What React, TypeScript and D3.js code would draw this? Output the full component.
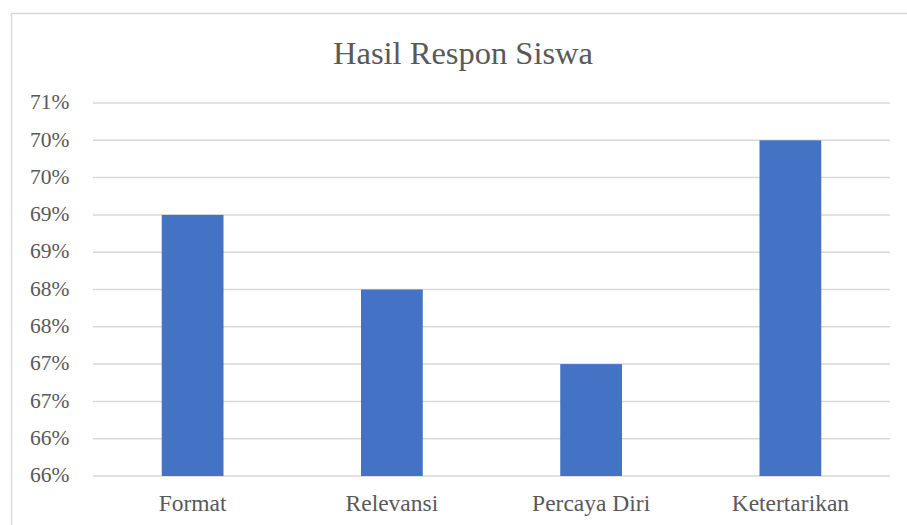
import { useEffect, useRef } from "react";
import * as d3 from "d3";

const categories = ["Format", "Relevansi", "Percaya Diri", "Ketertarikan"];
const values = [0.69, 0.68, 0.67, 0.7];
const tickValues = [0.655, 0.66, 0.665, 0.67, 0.675, 0.68, 0.685, 0.69, 0.695, 0.7, 0.705];
const title = "Hasil Respon Siswa";

export default function App() {
  const ref = useRef<SVGSVGElement>(null);

  useEffect(() => {
    const svg = d3.select(ref.current);
    svg.selectAll("*").remove();
    const width = 907;
    const height = 525;
    const m = { left: 93, right: 17, top: 103, bottom: 49 };
    const font = "Liberation Serif, Times New Roman, serif";

    // chart area border
    svg
      .append("rect")
      .attr("x", 11.5)
      .attr("y", 13.5)
      .attr("width", width)
      .attr("height", height)
      .attr("fill", "#fff")
      .attr("stroke", "#d9d9d9")
      .attr("stroke-width", 1.5);

    const x = d3
      .scaleBand()
      .domain(categories)
      .range([m.left, width - m.right])
      .paddingInner(0.69)
      .paddingOuter(0.345);
    const y = d3
      .scaleLinear()
      .domain([0.655, 0.705])
      .range([height - m.bottom, m.top]);

    svg
      .append("g")
      .selectAll("line")
      .data(tickValues)
      .join("line")
      .attr("x1", m.left)
      .attr("x2", width - m.right)
      .attr("y1", (d) => y(d))
      .attr("y2", (d) => y(d))
      .attr("stroke", "#d9d9d9")
      .attr("stroke-width", 1.5);

    svg
      .append("g")
      .selectAll("text")
      .data(tickValues)
      .join("text")
      .attr("x", 69.5)
      .attr("y", (d) => y(d))
      .attr("dy", "0.29em")
      .attr("text-anchor", "end")
      .style("font-family", font)
      .style("font-size", "21.5px")
      .attr("fill", "#595959")
      .text((d) => d3.format(".0%")(d));

    svg
      .append("g")
      .selectAll("rect")
      .data(values)
      .join("rect")
      .attr("x", (_, i) => x(categories[i])!)
      .attr("width", x.bandwidth())
      .attr("y", (d) => y(d))
      .attr("height", (d) => y(0.655) - y(d))
      .attr("fill", "#4472c4");

    svg
      .append("g")
      .selectAll("text")
      .data(categories)
      .join("text")
      .attr("x", (d) => x(d)! + x.bandwidth() / 2)
      .attr("y", 511)
      .attr("text-anchor", "middle")
      .style("font-family", font)
      .style("font-size", "23.5px")
      .attr("fill", "#595959")
      .text((d) => d);

    svg
      .append("text")
      .attr("x", 463)
      .attr("y", 63.5)
      .attr("text-anchor", "middle")
      .style("font-family", font)
      .style("font-size", "32.5px")
      .attr("fill", "#595959")
      .text(title);
  }, []);

  return (
    <div style={{ position: "fixed", left: 0, top: 0, width: 907, height: 525, background: "#fff" }}>
      <svg ref={ref} width={907} height={525} style={{ display: "block" }} />
    </div>
  );
}
